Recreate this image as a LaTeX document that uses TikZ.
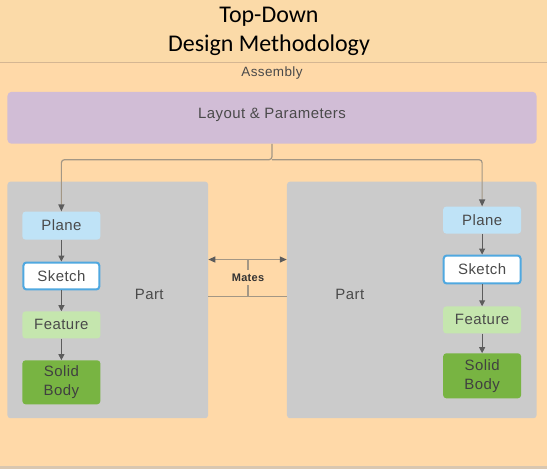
\documentclass[tikz,border=0pt]{standalone}
\usepackage{fontspec}
\setmainfont{Liberation Sans}
\newfontfamily\titlefont{Carlito}
\newfontfamily\boxfont[LetterSpace=3]{Liberation Sans}
\usetikzlibrary{arrows.meta}
\definecolor{peach}{HTML}{FFD9A8}
\definecolor{peachtop}{HTML}{FBDAA8}
\definecolor{rulecol}{HTML}{D5B692}
\definecolor{bandcol}{HTML}{D9C7B0}
\definecolor{lilac}{HTML}{D1BDD6}
\definecolor{panelgray}{HTML}{CBCBCB}
\definecolor{planeblue}{HTML}{BFE3F7}
\definecolor{sketchblue}{HTML}{4FA8E0}
\definecolor{featgreen}{HTML}{C5E6AE}
\definecolor{solidgreen}{HTML}{78B442}
\definecolor{linkgray}{HTML}{A39785}
\definecolor{tipgray}{HTML}{5C5C5C}
\definecolor{labelgray}{HTML}{4A4A4A}

\begin{document}
\begin{tikzpicture}[x=1pt, y=-1pt, font=\boxfont\fontsize{15}{19}\selectfont, text=labelgray,
	stage/.style={rounded corners=3pt, minimum width=78pt, align=center},
	panel/.style={fill=panelgray, rounded corners=3pt, minimum width=#1, minimum height=237pt},
	feed/.style={draw=linkgray, line width=1.2pt, rounded corners=3pt, -{Triangle[length=7pt,width=6pt,color=tipgray]}},
	flow/.style={draw=tipgray, line width=1pt, -{Triangle[length=6pt,width=6pt]}}]
	% background
	\fill[peach] (0,0) rectangle (547,470);
	\fill[peachtop] (0,0) rectangle (547,62);
	\draw[rulecol, line width=1pt] (0,62.5) -- (547,62.5);
	\fill[bandcol] (0,467) rectangle (547,470);
	\node[font=\titlefont\fontsize{24}{29}\selectfont, text=black, align=center] (title) at (269,31) {Top-Down\\Design Methodology};
	\node[font=\boxfont\fontsize{13.5}{15}\selectfont] (asm) at (272,73) {Assembly};
	\node[fill=lilac, rounded corners=4pt, minimum width=530pt, minimum height=52pt] (layout) at (272,118) {};
	\node (layouttxt) at (272,115) {Layout \& Parameters};
	% parts
	\node[panel=201pt] (partL) at (107.5,300.5) {};
	\node[panel=250pt] (partR) at (412,300.5) {};
	\node (partLtxt) at (149,295) {Part};
	\node (partRtxt) at (350,295) {Part};
	\node[stage, fill=planeblue, minimum height=28pt] (planeL) at (61,226) {Plane};
	\node[stage, fill=white, draw=sketchblue, line width=2pt, minimum width=76pt, minimum height=27pt] (sketchL) at (61,276.5) {Sketch};
	\node[stage, fill=featgreen, minimum height=27pt] (featL) at (61,325.5) {Feature};
	\node[stage, fill=solidgreen, minimum height=44pt, text=black!75] (solidL) at (61,383) {Solid\\Body};
	\node[stage, fill=planeblue, minimum height=27pt] (planeR) at (482.5,220.5) {Plane};
	\node[stage, fill=white, draw=sketchblue, line width=2pt, minimum width=77pt, minimum height=28pt] (sketchR) at (482.5,270) {Sketch};
	\node[stage, fill=featgreen, minimum height=27pt] (featR) at (482.5,320.5) {Feature};
	\node[stage, fill=solidgreen, minimum height=45pt, text=black!75] (solidR) at (482.5,376.5) {Solid\\Body};
	% layout feeds both parts
	\coordinate (split) at (272,160);
	\draw[feed] (layout.south) -- (split) -| (planeL.north);
	\draw[feed] (split) -| (planeR.north);
	\foreach \a/\b in {planeL/sketchL, sketchL/featL, featL/solidL, planeR/sketchR, sketchR/featR, featR/solidR}
		\draw[flow] (\a.south) -- (\b.north);
	% mates
	\node[font=\boxfont\fontsize{11}{12}\selectfont\bfseries, text=black!80] (mates) at (248,278) {Mates};
	\coordinate (mtop) at (248,260);
	\coordinate (mbot) at (248,297);
	\draw[feed] (mtop) -- (partL.east |- mtop);
	\draw[feed] (mtop) -- (partR.west |- mtop);
	\draw[linkgray, line width=1.2pt] (mtop) -- (mates.north);
	\draw[linkgray, line width=1.2pt] (partL.east |- mbot) -- (partR.west |- mbot);
	\draw[linkgray, line width=1.2pt] (mbot) -- (mates.south);
\end{tikzpicture}
\end{document}
